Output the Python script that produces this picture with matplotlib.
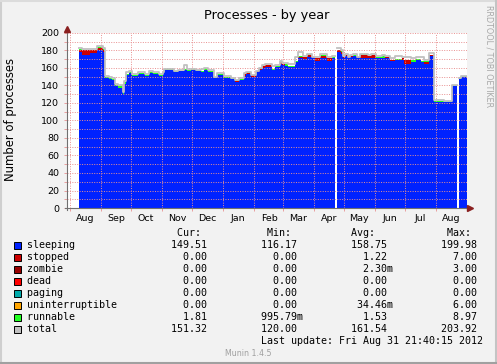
import numpy as np
import pandas as pd
import matplotlib
matplotlib.use('Agg')
from matplotlib import pyplot as plt
import matplotlib.dates as mdates
from matplotlib.patches import Rectangle
from matplotlib.ticker import MultipleLocator, NullFormatter

# values, each one holds until the next date
dates = [
    '2011-08-10', '2011-08-13', '2011-08-21', '2011-08-28', '2011-09-03', '2011-09-05',
    '2011-09-09', '2011-09-12', '2011-09-15', '2011-09-18', '2011-09-23', '2011-09-24',
    '2011-09-26', '2011-09-29', '2011-10-02', '2011-10-08', '2011-10-15', '2011-10-19',
    '2011-10-23', '2011-10-29', '2011-11-02', '2011-11-03', '2011-11-13', '2011-11-17',
    '2011-11-23', '2011-11-26', '2011-11-30', '2011-12-05', '2011-12-10', '2011-12-13',
    '2011-12-17', '2011-12-23', '2011-12-26', '2012-01-02', '2012-01-09', '2012-01-13',
    '2012-01-17', '2012-01-22', '2012-01-24', '2012-01-29', '2012-02-03', '2012-02-06',
    '2012-02-09', '2012-02-12', '2012-02-19', '2012-02-22', '2012-02-27', '2012-02-29',
    '2012-03-03', '2012-03-06', '2012-03-13', '2012-03-16', '2012-03-21', '2012-03-25',
    '2012-03-30', '2012-04-02', '2012-04-07', '2012-04-14', '2012-04-19', '2012-04-22',
    '2012-04-24', '2012-04-28', '2012-04-30', '2012-05-02', '2012-05-05', '2012-05-07',
    '2012-05-10', '2012-05-14', '2012-05-17', '2012-05-25', '2012-05-28', '2012-06-02',
    '2012-06-08', '2012-06-11', '2012-06-16', '2012-06-21', '2012-06-28', '2012-06-30',
    '2012-07-07', '2012-07-12', '2012-07-17', '2012-07-20', '2012-07-25', '2012-07-30',
    '2012-08-09', '2012-08-17', '2012-08-22', '2012-08-24', '2012-08-26', '2012-08-31 21:40',
]
nan = np.nan
sleeping = [
    178, 175, 177, 180, 178, 149, 147, 146, 139, 137, 130, 142,
    152, 154, 151, 153, 151, 154, 153, 151, 154, 157.5, 155, 156,
    158, 157, 158, 156, 155, 158, 155, 148, 152, 149, 147.5, 144,
    146, 151, 153, 150, 155, 158, 160, 161.5, 158, 161, 165, 163.5,
    162.5, 161.5, 166.5, 171, 170, 173, 171, 168.5, 171, 168.5, 171, nan,
    178, 176.5, 171, 174, 171, 173, 173.5, 171, 171.5, 171.5, 171.5, 171,
    171.5, 171, 168.5, 169, 169, 164, 167, 169, 166.5, 164.5, 173.5, 121.5,
    121, 139, nan, 147, 149.5, 149.5,
]
stopped = [
    3, 5, 3, 3, 3, 0, 0, 0, 0, 0, 0, 0,
    0, 0, 0, 0, 0, 0, 0, 0, 0, 0, 0, 0,
    0, 0, 0, 0, 0, 0, 0, 0, 0, 0, 0, 1.5,
    0.5, 2, 1.5, 2, 1, 1, 2, 1.5, 0, 0, 2, 1,
    0, 0, 0, 2, 2.5, 2, 1, 2.5, 3, 2.5, 0.5, nan,
    2, 2, 1, 0.5, 1, 0.5, 0, 1, 3.5, 2, 3, 0.5,
    0, 1, 0.5, 0.5, 2, 5, 0, 0, 0.5, 2.5, 1, 0,
    0, 0, nan, 0, 0, 0,
]
runnable = [
    0.5, 0.5, 0.5, 0.5, 0.5, 1, 1, 1, 2, 2, 2, 1.5,
    1.5, 1.5, 1.5, 1.5, 1, 1, 1.5, 1, 1, 1, 1.5, 1,
    1, 1, 1, 1.5, 1, 1.5, 1, 1.5, 1, 1, 1, 0.5,
    0.5, 0.5, 0.5, 0.5, 0.5, 0.5, 0.5, 0.5, 1, 1, 0.5, 0.5,
    1.5, 1, 1, 0.5, 0.5, 0.5, 1, 0.5, 0.5, 0.5, 0.5, nan,
    0.5, 0.5, 0.5, 0.5, 0.5, 0.5, 1.5, 0.5, 0.5, 0.5, 0.5, 0.5,
    2.5, 0.5, 0.5, 0.5, 0.5, 0.5, 2.5, 1, 0.5, 0.5, 0.5, 0.5,
    1, 1, nan, 1, 1.8, 1.8,
]
total = [
    183, 182, 182, 185, 183, 151, 150, 149, 142, 140, 133, 145,
    155, 156, 153, 155, 153, 156, 155, 153, 155, 158.5, 157, 157.5,
    163, 159, 159, 158, 159, 159.5, 158, 150, 154, 150.5, 149, 146.5,
    148, 154, 155, 152.5, 157, 160, 163, 164, 162, 163, 168, 166,
    166, 164, 172, 178, 174, 176, 173, 172, 176, 172, 174, nan,
    183, 180, 174, 176, 173, 175, 176, 173, 176.5, 175, 176.5, 173.5,
    175, 173.5, 171.5, 174, 173, 173, 171.5, 173, 173, 169, 177, 123.5,
    122.5, 141, nan, 148, 151.3, 151.3,
]

legend_names = ['sleeping', 'stopped', 'zombie', 'dead', 'paging',
                'uninterruptible', 'runnable', 'total']
legend_colors = ['#0022ff', '#cc0000', '#990000', '#ff0000', '#00aaaa',
                 '#ffa500', '#22ff22', '#c0c0c0']
cur_vals = ['149.51', '0.00', '0.00', '0.00', '0.00', '0.00', '1.81', '151.32']
min_vals = ['116.17', '0.00', '0.00', '0.00', '0.00', '0.00', '995.79m', '120.00']
avg_vals = ['158.75', '1.22', '2.30m', '0.00', '0.00', '34.46m', '1.53', '161.54']
max_vals = ['199.98', '7.00', '3.00', '0.00', '0.00', '6.00', '8.97', '203.92']

W, H = 497, 364
BG = '#f2f2f2'
GRID = '#e89090'


def fx(px):
    return px / W


def fy(py):
    return 1 - py / H


def steps(x, y):
    # rrd style: a value holds from its date up to the next one
    return np.repeat(x, 2)[1:], np.repeat(np.asarray(y, float), 2)[:-1]


plt.rcParams['font.family'] = 'DejaVu Sans'

fig = plt.figure(figsize=(W / 100, H / 100), dpi=100, facecolor=BG)
ax = fig.add_axes([fx(67), fy(208), 400 / W, 175 / H])
ax.set_facecolor('white')

x = mdates.date2num(pd.to_datetime(dates, format='mixed'))
base = np.zeros(len(x))
for vals, col in [(sleeping, '#0022ff'), (stopped, '#cc0000'), (runnable, '#22ff22')]:
    top = base + np.asarray(vals, float)
    xs, lo = steps(x, base)
    _, hi = steps(x, top)
    ax.fill_between(xs, lo, hi, color=col, linewidth=0, zorder=2)
    base = top
xs, tot = steps(x, total)
ax.plot(xs, tot, color='#c0c0c0', linewidth=1.3, zorder=3)

ax.set_ylim(0, 200)
ax.set_xlim(mdates.datestr2num('2011-07-29'), mdates.datestr2num('2012-09-01'))

ax.yaxis.set_major_locator(MultipleLocator(20))
ax.yaxis.set_minor_locator(MultipleLocator(10))
ax.xaxis.set_major_locator(mdates.MonthLocator())
ax.xaxis.set_major_formatter(NullFormatter())
ax.xaxis.set_minor_locator(mdates.MonthLocator(bymonthday=16))
ax.xaxis.set_minor_formatter(mdates.DateFormatter('%b'))

ax.tick_params(axis='y', which='both', length=2, width=0.6, color=GRID,
               labelsize=6.8, pad=3.5)
ax.tick_params(axis='x', which='major', length=2, width=0.6, color=GRID)
ax.tick_params(axis='x', which='minor', length=0, labelsize=6.8, pad=4)

ax.yaxis.grid(True, which='both', color=GRID, linestyle=(0, (1, 1.5)), linewidth=0.7)
ax.xaxis.grid(True, which='major', color=GRID, linestyle=(0, (1, 1.5)), linewidth=0.7)
ax.set_axisbelow(False)
for gl in ax.get_xgridlines() + ax.get_ygridlines():
    gl.set_zorder(4)

for s in ax.spines.values():
    s.set_visible(False)
ax.plot([0, 0], [-0.012, 1.02], transform=ax.transAxes, color='#707070',
        linewidth=0.8, clip_on=False, zorder=5)
ax.plot([-0.006, 1.005], [0, 0], transform=ax.transAxes, color='#707070',
        linewidth=0.8, clip_on=False, zorder=5)
ax.plot([0], [1.025], marker='^', markersize=4.5, color='#8a2020',
        transform=ax.transAxes, clip_on=False, zorder=6)
ax.plot([1.008], [0], marker='>', markersize=4.5, color='#8a2020',
        transform=ax.transAxes, clip_on=False, zorder=6)

fig.text(fx(267), fy(18.5), 'Processes - by year', ha='center', va='baseline',
         fontsize=9.3)
fig.text(fx(11), fy(120), 'Number of processes', rotation=90, ha='center',
         va='center', fontsize=8.4)
fig.text(fx(489), fy(56), 'RRDTOOL / TOBI OETIKER', rotation=270, ha='center',
         va='center', fontsize=5.8, color='#a8a8a8')

# legend table, monospace so the columns line up like rrdtool's
mono = dict(family='DejaVu Sans Mono', fontsize=7.2, ha='left', va='center')
tx = fx(26.7)
header = ' ' * 25 + 'Cur:' + ' ' * 11 + 'Min:' + ' ' * 10 + 'Avg:' + ' ' * 12 + 'Max:'
fig.text(tx, fy(233), header, **mono)


def cell(row, val, end):
    num = val.rstrip('m')
    suffix = 'm' if val.endswith('m') else ' '
    return row + num.rjust(end - len(row)) + suffix


for i, name in enumerate(legend_names):
    yy = 245 + 12 * i
    row = name.ljust(20)
    row = cell(row, cur_vals[i], 30)
    row = cell(row, min_vals[i], 45)
    row = cell(row, avg_vals[i], 60)
    row = cell(row, max_vals[i], 75)
    fig.text(tx, fy(yy), row, **mono)
    fig.add_artist(Rectangle((fx(13.5), fy(yy + 3.5)), 7 / W, 7 / H,
                             facecolor=legend_colors[i], edgecolor='black',
                             linewidth=0.7, transform=fig.transFigure))

fig.text(tx, fy(341), ' ' * 39 + 'Last update: Fri Aug 31 21:40:15 2012', **mono)
fig.text(fx(248), fy(353), 'Munin 1.4.5', ha='center', va='center',
         fontsize=5.7, color='#a0a0a0')

# frame around the canvas
fig.add_artist(plt.Line2D([fx(1), fx(1)], [fy(1), fy(363)], color='#cfcfcf',
                          linewidth=1.5, transform=fig.transFigure))
fig.add_artist(plt.Line2D([fx(1), fx(496)], [fy(1), fy(1)], color='#dcdcdc',
                          linewidth=1.5, transform=fig.transFigure))
fig.add_artist(plt.Line2D([fx(496), fx(496)], [fy(1), fy(363)], color='#c4c4c4',
                          linewidth=1.5, transform=fig.transFigure))
fig.add_artist(plt.Line2D([fx(1), fx(496)], [fy(363), fy(363)], color='#a0a0a0',
                          linewidth=1.5, transform=fig.transFigure))

fig.savefig('out.png', dpi=100, facecolor=BG)
